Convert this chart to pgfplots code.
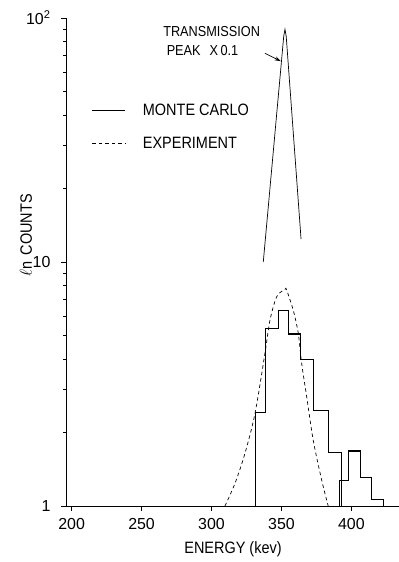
\documentclass[border=0pt]{standalone}
\usepackage{pgfplots}
\pgfplotsset{compat=1.18}
\usepackage{fontspec}
\setmainfont{Liberation Sans}[FakeStretch=0.88]
\newfontfamily\tickfont{Liberation Sans}
\usetikzlibrary{arrows.meta}
\begin{document}
\begin{tikzpicture}
\begin{axis}[
  name=ax,
  scale only axis,
  width=333bp, height=488bp,
  xmin=196, xmax=434,
  ymode=log, ymin=1, ymax=100,
  axis x line=bottom, axis y line=left,
  axis line style={-, line width=0.8pt},
  clip=false,
  tick align=outside,
  major tick length=5bp, minor tick length=3bp,
  every tick/.style={black, line width=0.6pt},
  xtick={200,250,300,350,400},
  ytick={1,10,100},
  yticklabels={1,10,10\textsuperscript{2}},
  /pgf/number format/assume math mode=true,
  xticklabel style={font=\tickfont\fontsize{16}{18}\selectfont, yshift=-4bp},
  yticklabel style={font=\tickfont\fontsize{16}{18}\selectfont, xshift=-7bp},
  xlabel={ENERGY (kev)},
  ylabel={$\ell$n\hspace{6bp}COUNTS},
  label style={font=\fontsize{16.5}{18}\selectfont},
  xlabel style={at={(axis description cs:0.5015,-0.088)}, anchor=center},
  ylabel style={at={(axis description cs:-0.12,0.555)}, anchor=center},
  legend style={draw=none, fill=none, at={(axis description cs:0.068,0.832)}, anchor=north west,
    font=\fontsize{16.5}{18}\selectfont, row sep=16bp,
    nodes={inner sep=2bp}},
  legend cell align=left,
  legend image code/.code={\draw[#1] (0bp,0bp) -- (33bp,0bp);},
]
% Monte Carlo histogram (main)
\addplot[black, line width=1.1pt, line join=miter] coordinates {
 (331.6,1) (331.6,2.42) (338.9,2.42) (338.9,5.35) (347.7,5.35) (347.7,6.31)
 (354.9,6.31) (354.9,5.07) (363.7,5.07) (363.7,4.0) (373.2,4.0) (373.2,2.47)
 (383.9,2.47) (383.9,1.66) (393.0,1.66) (393.0,1)
};
\addlegendentry{\hspace{15bp}MONTE CARLO}
% Experiment
\addplot[black, line width=0.7pt, dash pattern=on 3.5bp off 3bp, smooth, tension=0.5] coordinates {
 (309.6,1.0) (316.8,1.239) (323.9,1.644) (331.1,2.399) (338.2,4.227) (341.8,5.78)
 (346.6,7.21) (352.5,7.73) (353.7,7.67) (358.4,6.35) (362.0,5.11) (364.4,3.85)
 (368.0,2.81) (372.7,1.86) (378.7,1.28) (383.4,1.0)
};
\addlegendentry{\hspace{15bp}EXPERIMENT}
% Monte Carlo histogram (second piece)
\addplot[black, line width=1.1pt, line join=miter, forget plot] coordinates {
 (391.3,1) (391.3,1.27) (397.7,1.27) (397.7,1.68) (406.6,1.68) (406.6,1.31)
 (414.4,1.31) (414.4,1.06) (422.7,1.06) (422.7,1)
};
% Transmission peak x 0.1
\addplot[black, line width=0.7pt, forget plot] coordinates {
 (337.0,10.0) (351.6,84) (352.5,89.9) (353.4,84) (364.0,12.4)
};
\node[anchor=west, font=\fontsize{14.5}{16}\selectfont] at (axis cs:263.0,87.9) {TRANSMISSION};
\node[anchor=west, font=\fontsize{14.5}{16}\selectfont] at (axis cs:265.5,73.7) {PEAK\hspace{9bp}X\,0.1};
\draw[-{Stealth[length=6bp,width=4bp]}, line width=0.7pt] (axis cs:338.2,71.7) -- (axis cs:349.4,66.6);
\end{axis}
\pgfresetboundingbox
\path ([shift={(-66bp,-56bp)}]ax.south west) rectangle ([shift={(0bp,18bp)}]ax.north east);
\end{tikzpicture}
\end{document}
